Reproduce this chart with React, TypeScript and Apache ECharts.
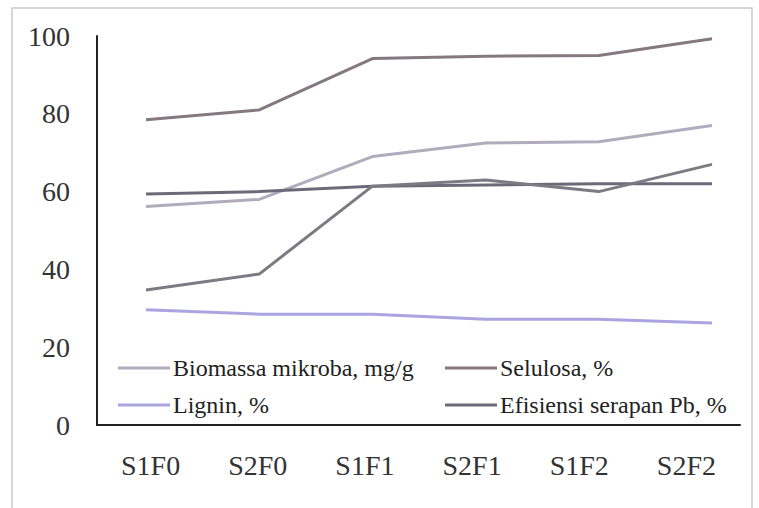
import React, { useEffect, useRef } from "react";
import * as echarts from "echarts";

const categories = ["S1F0", "S2F0", "S1F1", "S2F1", "S1F2", "S2F2"];
const yTicks = [0, 20, 40, 60, 80, 100];

const selulosa = [78.5, 81, 94.2, 94.8, 95, 99.3];
const biomassa = [56.2, 58, 69, 72.5, 72.8, 77];
const efisiensi = [59.4, 60, 61.4, 61.7, 62, 62];
const seriesFive = [34.7, 38.8, 61.4, 63, 60, 67];
const lignin = [29.6, 28.5, 28.5, 27.2, 27.2, 26.2];

const names = {
  biomassa: "Biomassa mikroba, mg/g",
  selulosa: "Selulosa, %",
  lignin: "Lignin, %",
  efisiensi: "Efisiensi serapan Pb, %",
  other: "Seri 5",
};

export default function App() {
  const ref = useRef<HTMLDivElement>(null);
  useEffect(() => {
    if (!ref.current) return;
    const chart = echarts.init(ref.current, null, { renderer: "svg" });
    const font = "Liberation Serif";
    const mk = (name: string, data: number[], color: string) => ({
      name,
      type: "line",
      data,
      xAxisIndex: 1,
      yAxisIndex: 1,
      symbol: "none",
      lineStyle: { color, width: 3 },
      itemStyle: { color },
      z: 3,
    });
    const legendBase = {
      orient: "vertical",
      itemWidth: 52,
      itemHeight: 3,
      itemGap: 13,
      icon: "rect",
      padding: 0,
      textStyle: { fontFamily: font, fontSize: 24, color: "#222", padding: [0, 0, 0, -2] },
    };
    chart.setOption({
      animation: false,
      backgroundColor: "#fff",
      graphic: [
        {
          type: "rect",
          shape: { x: 12, y: 8, width: 740, height: 510 },
          style: { fill: "none", stroke: "#c6c8d4", lineWidth: 1.5 },
          silent: true,
        },
      ],
      grid: [
        { left: 97, top: 36, right: 19, bottom: 83 },
        { left: 146, top: 36, right: 47, bottom: 83 },
      ],
      legend: [
        { ...legendBase, left: 118, top: 356, data: [names.biomassa, names.lignin] },
        { ...legendBase, left: 445, top: 356, data: [names.selulosa, names.efisiensi] },
      ],
      xAxis: [
        {
          type: "category",
          gridIndex: 0,
          data: categories,
          boundaryGap: true,
          axisLine: { lineStyle: { color: "#222", width: 2 } },
          axisTick: { show: false },
          axisLabel: { fontFamily: font, fontSize: 28, color: "#333", margin: 26 },
        },
        {
          type: "category",
          gridIndex: 1,
          data: categories,
          boundaryGap: false,
          show: false,
        },
      ],
      yAxis: [
        {
          type: "value",
          gridIndex: 0,
          min: yTicks[0],
          max: yTicks[yTicks.length - 1],
          interval: 20,
          axisLine: { show: true, lineStyle: { color: "#222", width: 2 } },
          axisTick: { show: false },
          splitLine: { show: false },
          axisLabel: { fontFamily: font, fontSize: 28, color: "#333", margin: 27 },
        },
        {
          type: "value",
          gridIndex: 1,
          min: yTicks[0],
          max: yTicks[yTicks.length - 1],
          interval: 20,
          show: false,
          splitLine: { show: false },
        },
      ],
      series: [
        mk(names.selulosa, selulosa, "#857880"),
        mk(names.biomassa, biomassa, "#b0acbc"),
        mk(names.efisiensi, efisiensi, "#6c6a78"),
        mk(names.other, seriesFive, "#7c7a82"),
        mk(names.lignin, lignin, "#aaa4e0"),
      ],
    });
    return () => chart.dispose();
  }, []);
  return (
    <div
      ref={ref}
      style={{ position: "fixed", left: 0, top: 0, width: 759, height: 508 }}
    />
  );
}
